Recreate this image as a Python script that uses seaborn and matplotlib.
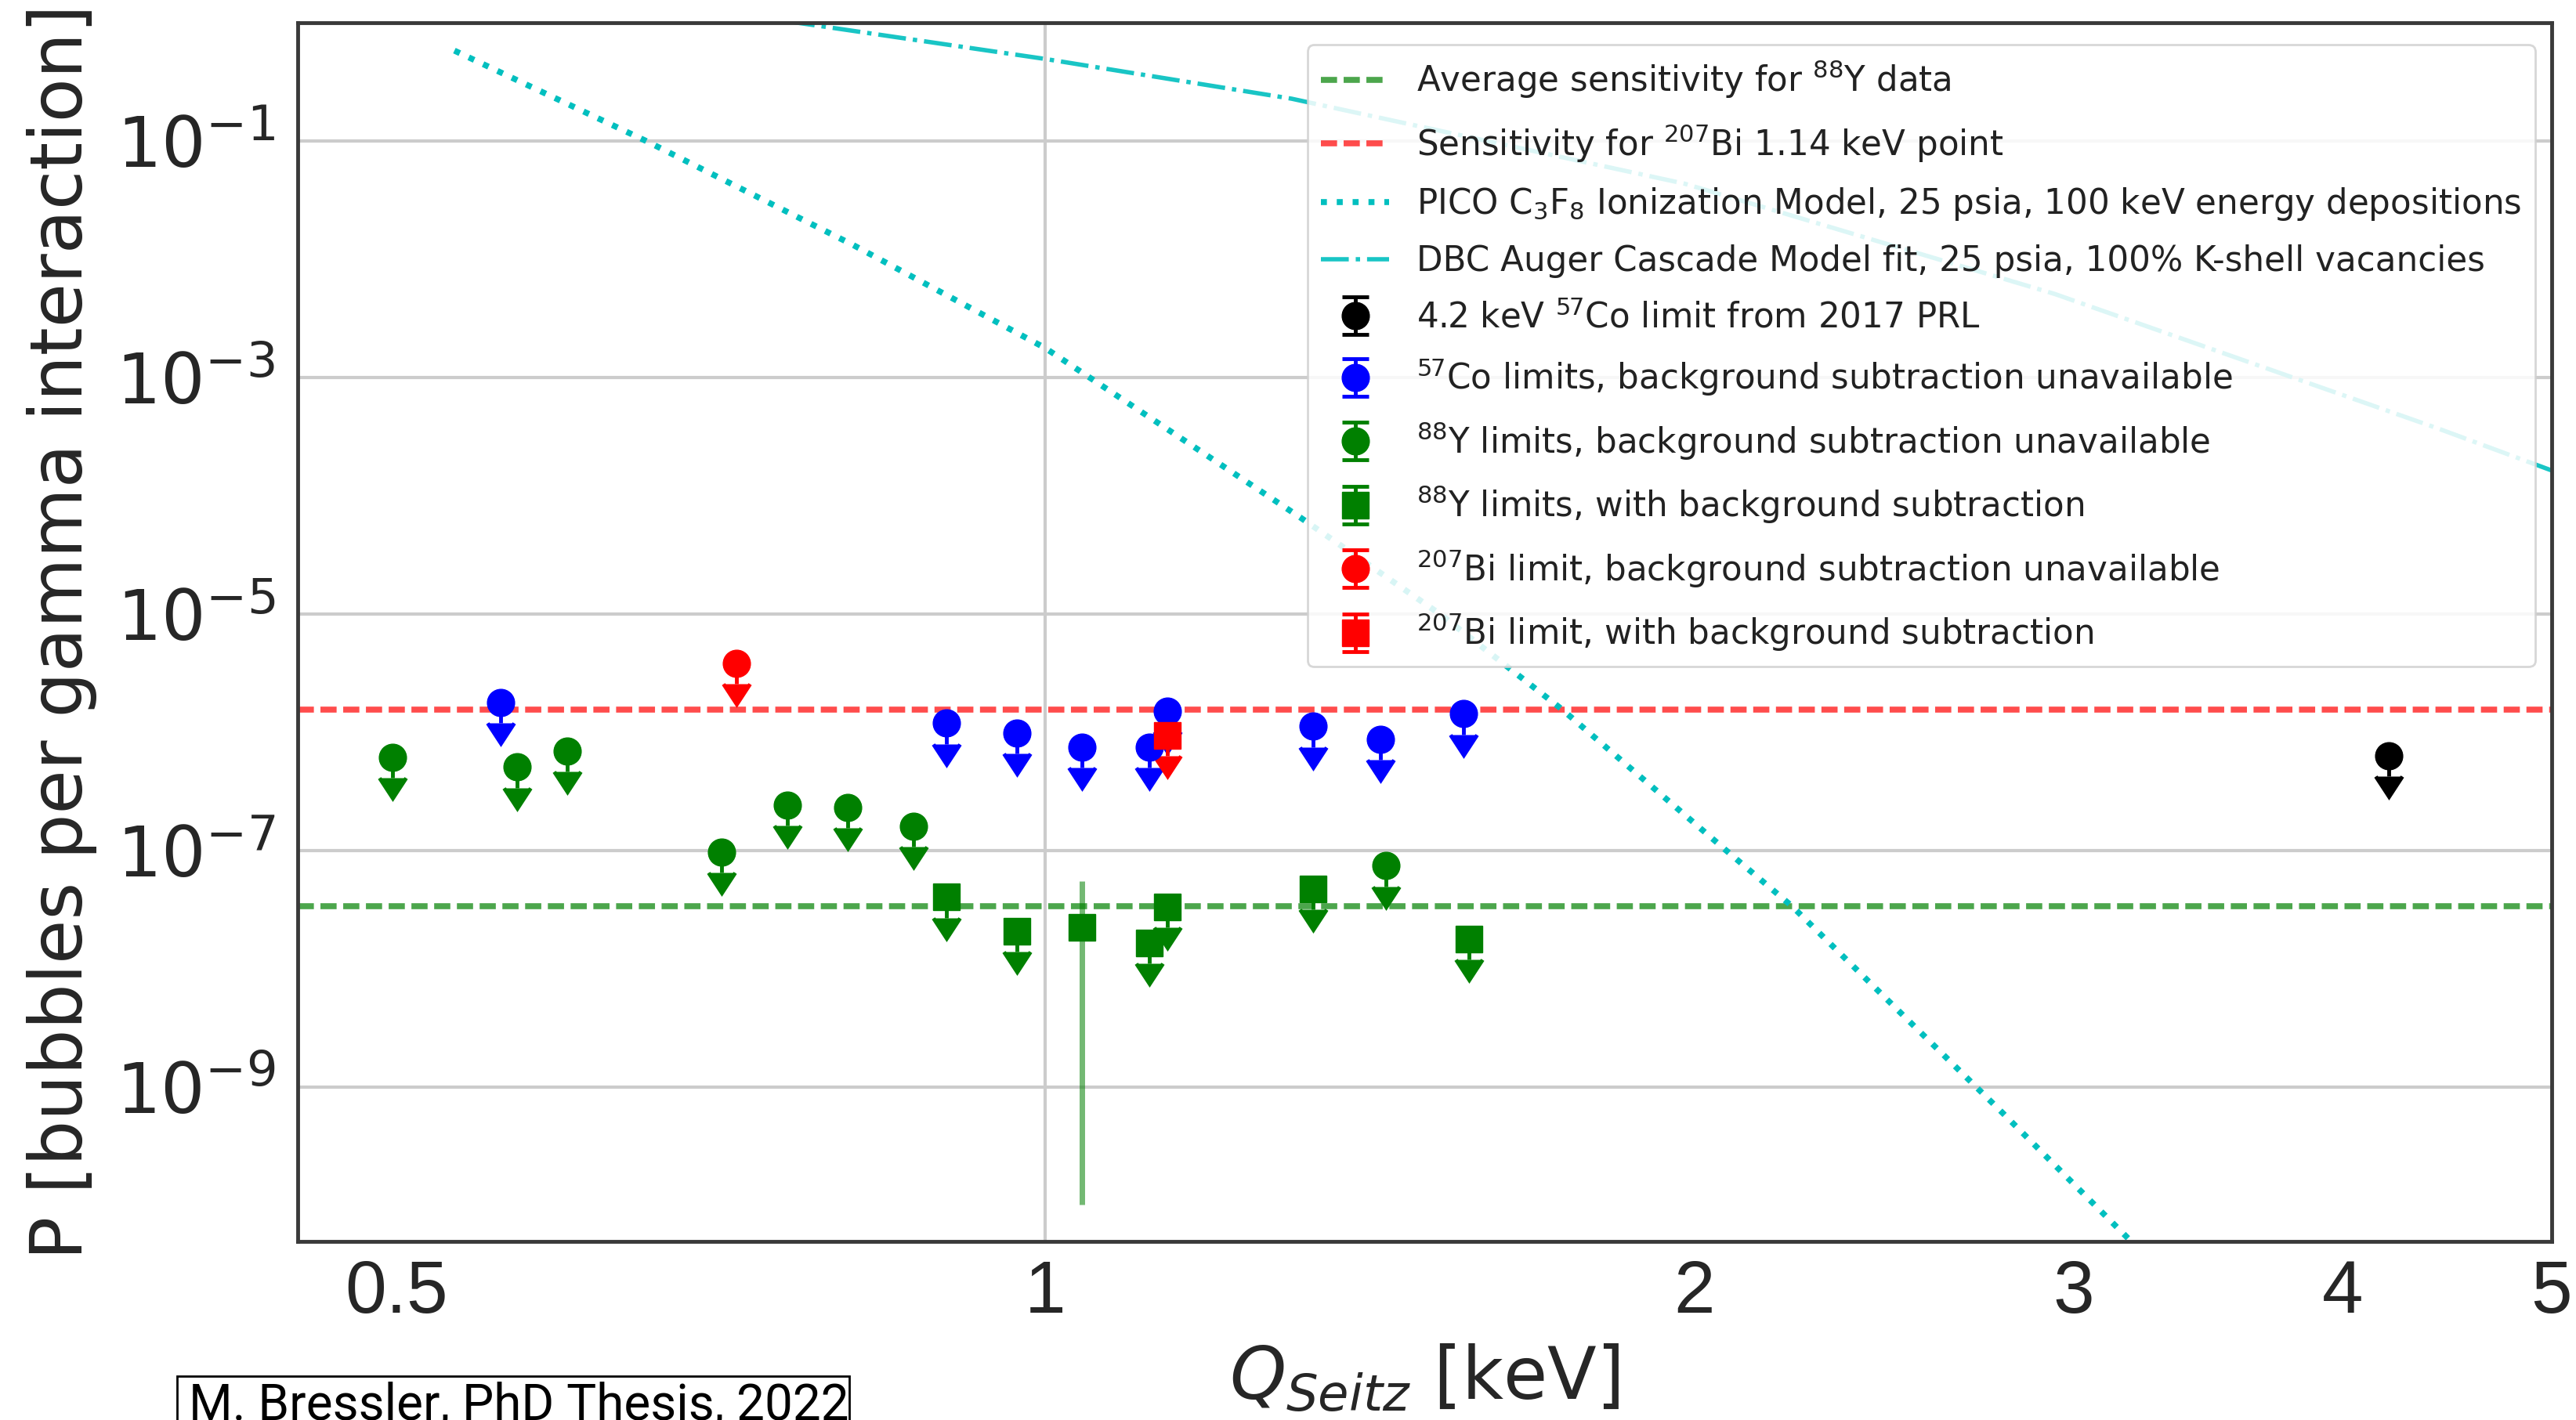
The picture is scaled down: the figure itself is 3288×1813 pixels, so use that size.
import numpy as np
import matplotlib
matplotlib.use("Agg")
import matplotlib.pyplot as plt
import matplotlib.ticker as mticker
from matplotlib.patches import Rectangle
from matplotlib.legend_handler import HandlerErrorbar
from matplotlib.container import ErrorbarContainer
import seaborn as sns

# ---------------------------------------------------------------- data
# 4.2 keV 57Co limit from the 2017 PRL
prl_q = [4.2]
prl_p = [6.4e-7]

# 57Co limits, no background subtraction
co57_q = [0.559, 0.90, 0.97, 1.04, 1.118, 1.139, 1.331, 1.431, 1.563]
co57_p = [1.80e-6, 1.20e-6, 9.9e-7, 7.5e-7, 7.5e-7, 1.52e-6, 1.13e-6, 8.8e-7, 1.44e-6]

# 88Y limits, no background subtraction
y88_q = [0.498, 0.569, 0.600, 0.708, 0.759, 0.810, 0.869, 1.439]
y88_p = [6.2e-7, 5.1e-7, 7.0e-7, 9.8e-8, 2.43e-7, 2.34e-7, 1.62e-7, 7.5e-8]

# 88Y with background subtraction (one point is a measurement, not a limit)
y88_sub_q = [0.90, 0.97, 1.04, 1.118, 1.139, 1.331, 1.573]
y88_sub_p = [4.07e-8, 2.1e-8, 2.27e-8, 1.66e-8, 3.36e-8, 4.78e-8, 1.8e-8]
y88_sub_is_limit = [True, True, False, True, True, True, True]
y88_meas_low = 1.02e-10
y88_meas_high = 5.55e-8

# 207Bi
bi207_q = [0.719]
bi207_p = [3.86e-6]
bi207_sub_q = [1.139]
bi207_sub_p = [9.5e-7]

# sensitivities
avg_y88_sensitivity = 3.4e-8
bi207_sensitivity = 1.56e-6

# model curves
pico_q = [0.532, 0.653, 0.814, 1.0, 1.313, 1.525, 1.737, 2.071, 2.221, 2.781, 3.187]
pico_p = [0.581, 0.1, 1.33e-2, 1.78e-3, 6.6e-5, 1.0e-5, 1.57e-6, 1.0e-7, 3.4e-8, 6.1e-10, 5.1e-11]

dbc_q = [0.759, 1.0, 1.301, 1.98, 2.94, 4.437, 5.01]
dbc_p = [1.03, 0.494, 0.228, 0.0436, 5.1e-3, 3.67e-4, 1.62e-4]

x_ticks = [0.5, 1, 2, 3, 4, 5]
x_tick_labels = ["0.5", "1", "2", "3", "4", "5"]
y_ticks = [1e-9, 1e-7, 1e-5, 1e-3, 1e-1]

labels = {
    "avg": r"Average sensitivity for $^{88}$Y data",
    "bi_sens": r"Sensitivity for $^{207}$Bi 1.14 keV point",
    "pico": r"PICO C$_3$F$_8$ Ionization Model, 25 psia, 100 keV energy depositions",
    "dbc": "DBC Auger Cascade Model fit, 25 psia, 100% K-shell vacancies",
    "prl": r"4.2 keV $^{57}$Co limit from 2017 PRL",
    "co57": r"$^{57}$Co limits, background subtraction unavailable",
    "y88": r"$^{88}$Y limits, background subtraction unavailable",
    "y88_sub": r"$^{88}$Y limits, with background subtraction",
    "bi": r"$^{207}$Bi limit, background subtraction unavailable",
    "bi_sub": r"$^{207}$Bi limit, with background subtraction",
}

# ---------------------------------------------------------------- style
sns.set_style("white")
plt.rcParams["font.family"] = ["DejaVu Sans"]
plt.rcParams["mathtext.fontset"] = "dejavusans"

W, H = 3288, 1813
fig = plt.figure(figsize=(W / 100, H / 100), dpi=100)
ax = fig.add_axes([380 / W, 1 - 1585 / H, 2877 / W, 1556 / H])
ax.set_xscale("log")
ax.set_yscale("log")
ax.set_xlim(0.45, 5.0)
ax.set_ylim(5e-11, 1.0)

grid_color = "#cccccc"
ax.grid(False)
ax.yaxis.grid(True, which="major", color=grid_color, lw=3, zorder=0)
ax.axvline(1.0, color=grid_color, lw=3, zorder=0)
ax.set_axisbelow(True)

# horizontal sensitivity lines
dash = (0, (2.7, 1.1))
l_avg = ax.axhline(avg_y88_sensitivity, color="green", alpha=0.7, lw=5.5, ls=dash)
l_bi = ax.axhline(bi207_sensitivity, color="red", alpha=0.7, lw=5.5, ls=dash)

# model curves
sns.lineplot(x=pico_q, y=pico_p, ax=ax, color="c", linestyle=":", linewidth=5.5,
             sort=False, estimator=None)
l_pico = ax.lines[-1]
sns.lineplot(x=dbc_q, y=dbc_p, ax=ax, color="c", linestyle="-.", linewidth=4,
             alpha=0.9, sort=False, estimator=None)
l_dbc = ax.lines[-1]

ARROW = 0.33  # length of the upper-limit stem, as a fraction of the value
MS, CAP, ELW = 25, 12.5, 3.5


def upper_limits(q, p, color, marker, label):
    p = np.asarray(p, dtype=float)
    return ax.errorbar(q, p, yerr=[p * ARROW, np.zeros_like(p)], uplims=True,
                       fmt=marker, color=color, ms=MS, capsize=CAP,
                       elinewidth=ELW, capthick=ELW, label=label, zorder=3)


h_prl = upper_limits(prl_q, prl_p, "black", "o", labels["prl"])
h_co = upper_limits(co57_q, co57_p, "blue", "o", labels["co57"])
h_y88 = upper_limits(y88_q, y88_p, "green", "o", labels["y88"])

lim_mask = np.array(y88_sub_is_limit)
sub_q = np.asarray(y88_sub_q)
sub_p = np.asarray(y88_sub_p)
h_y88s = upper_limits(sub_q[lim_mask], sub_p[lim_mask], "green", "s", labels["y88_sub"])
mq, mp = sub_q[~lim_mask], sub_p[~lim_mask]
ax.errorbar(mq, mp, yerr=[mp - y88_meas_low, y88_meas_high - mp], fmt="s",
            color="green", ecolor=(0, 0.5, 0, 0.55), ms=MS, capsize=0,
            elinewidth=5, zorder=3)

h_bi = upper_limits(bi207_q, bi207_p, "red", "o", labels["bi"])
h_bis = upper_limits(bi207_sub_q, bi207_sub_p, "red", "s", labels["bi_sub"])

# ---------------------------------------------------------------- axes
ax.set_yticks(y_ticks)
ax.yaxis.set_minor_locator(mticker.NullLocator())
ax.set_xticks(x_ticks)
ax.set_xticklabels(x_tick_labels, fontfamily="Liberation Sans", fontsize=68)
ax.xaxis.set_minor_locator(mticker.FixedLocator([0.6, 0.7, 0.8, 0.9]))
ax.xaxis.set_minor_formatter(mticker.NullFormatter())
ax.tick_params(axis="y", which="major", labelsize=64, length=9, width=2.5,
               color="#555555", pad=12)
ax.tick_params(axis="x", which="major", length=10, width=2.5, color="#555555", pad=6)
ax.tick_params(axis="x", which="minor", length=6, width=2, color="#777777")

for s in ax.spines.values():
    s.set_visible(True)
    s.set_color("#3a3a3a")
    s.set_linewidth(3.5)

ax.set_xlabel(r"$Q_{Seitz}$ [keV]", fontsize=66)
ax.xaxis.set_label_coords(0.5, -0.083)
ax.set_ylabel("P [bubbles per gamma interaction]", fontsize=66)
ax.yaxis.set_label_coords(-0.089, 0.5)

# ---------------------------------------------------------------- legend
handles = [l_avg, l_bi, l_pico, l_dbc, h_prl, h_co, h_y88, h_y88s, h_bi, h_bis]
names = [labels[k] for k in ["avg", "bi_sens", "pico", "dbc", "prl", "co57",
                             "y88", "y88_sub", "bi", "bi_sub"]]
leg = ax.legend(handles, names, loc="upper right", bbox_to_anchor=(0.9927, 0.982),
                borderaxespad=0, fontsize=31.4, labelspacing=0.64, numpoints=1,
                framealpha=0.85, edgecolor="#d0d0d0",
                handler_map={ErrorbarContainer: HandlerErrorbar(xerr_size=0.55)})
leg.get_frame().set_linewidth(2)
for t in leg.get_texts():
    t.set_color("#222222")

# ---------------------------------------------------------------- credit box
fig.patches.append(Rectangle((226 / W, -0.05), 858 / W, 0.05 + 1 - 1757 / H,
                             transform=fig.transFigure, facecolor="white",
                             edgecolor="black", lw=2, clip_on=False))
fig.text(241 / W, 1 - 1813 / H, "M. Bressler, PhD Thesis, 2022",
         fontfamily="Roboto", fontsize=46, va="baseline",
         ha="left", color="black")

fig.savefig("out.png", dpi=100, facecolor="white")
